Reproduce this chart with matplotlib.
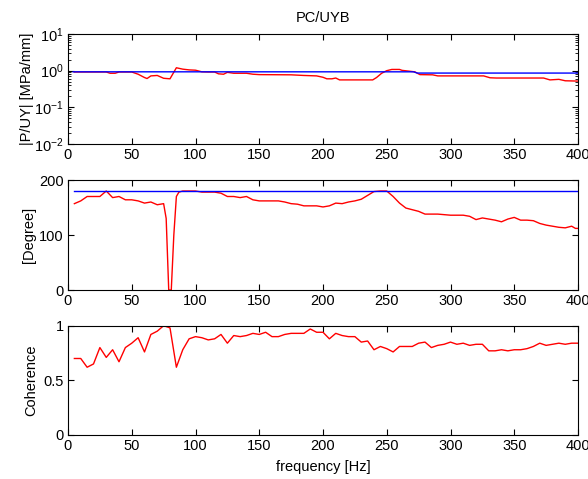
import matplotlib
matplotlib.use("Agg")
import matplotlib.pyplot as plt
import numpy as np

plt.rcParams['font.family'] = ['Liberation Sans', 'DejaVu Sans']
plt.rcParams['font.size'] = 10.5

# ---- data ----
mag_freq = [5, 10, 15, 20, 25, 30, 33, 37, 40, 45, 50, 55, 60, 62, 65, 70, 75, 80, 85, 90,
            95, 100, 105, 110, 115, 118, 122, 125, 130, 140, 145, 150, 175, 185, 195, 200, 203,
            207, 210, 213, 225, 239, 242, 246, 250, 254, 260, 262, 272, 276, 286, 290, 326,
            331, 336, 373, 378, 385, 390, 400]
mag_red = [0.92, 0.92, 0.92, 0.92, 0.92, 0.92, 0.85, 0.85, 0.92, 0.92, 0.92, 0.8, 0.65, 0.61,
           0.72, 0.74, 0.62, 0.6, 1.2, 1.1, 1.05, 1.03, 0.93, 0.92, 0.92, 0.82, 0.8, 0.9, 0.85,
           0.85, 0.8, 0.78, 0.77, 0.74, 0.72, 0.66, 0.6, 0.6, 0.63, 0.56, 0.56, 0.56, 0.65, 0.85,
           1.0, 1.08, 1.08, 1.02, 0.93, 0.78, 0.77, 0.72, 0.72, 0.64, 0.63, 0.63, 0.56, 0.58,
           0.53, 0.52]
mag_blue_freq = [4, 271, 274, 400]
mag_blue = [0.93, 0.93, 0.86, 0.86]

ph_freq = [5, 10, 15, 20, 25, 30, 35, 40, 45, 50, 55, 60, 65, 70, 75, 77, 79, 81, 83, 85, 87,
           90, 95, 100, 105, 110, 115, 120, 125, 130, 135, 140, 145, 150, 155, 160, 165, 170,
           175, 180, 185, 190, 195, 200, 205, 210, 215, 220, 225, 230, 235, 240, 245, 250, 255,
           260, 265, 270, 275, 280, 285, 290, 295, 300, 305, 310, 315, 320, 325, 330, 335, 340,
           345, 350, 355, 360, 365, 370, 375, 380, 385, 390, 395, 398, 400]
ph_red = [157, 162, 170, 170, 170, 180, 168, 170, 164, 164, 162, 158, 160, 155, 157, 130, 0, 0,
          100, 170, 178, 180, 180, 180, 178, 178, 178, 176, 170, 170, 168, 170, 164, 162, 162,
          162, 162, 160, 157, 156, 153, 153, 153, 151, 153, 158, 157, 160, 162, 165, 172, 179,
          180, 180, 170, 158, 149, 146, 143, 138, 138, 138, 137, 136, 136, 136, 134, 128, 131,
          129, 127, 124, 129, 132, 127, 127, 126, 121, 118, 116, 114, 113, 116, 112, 112]
ph_blue_freq = [5, 400]
ph_blue = [180, 180]

coh_freq = [5, 10, 15, 20, 25, 30, 35, 40, 45, 50, 55, 60, 65, 70, 75, 80, 85, 90, 95, 100,
            105, 110, 115, 120, 125, 130, 135, 140, 145, 150, 155, 160, 165, 170, 175, 180,
            185, 190, 195, 200, 205, 210, 215, 220, 225, 230, 235, 240, 245, 250, 255, 260,
            265, 270, 275, 280, 285, 290, 295, 300, 305, 310, 315, 320, 325, 330, 335, 340,
            345, 350, 355, 360, 365, 370, 375, 380, 385, 390, 395, 400]
coh = [0.70, 0.70, 0.62, 0.65, 0.80, 0.71, 0.78, 0.67, 0.80, 0.84, 0.89, 0.76, 0.92, 0.95,
       1.00, 0.98, 0.62, 0.78, 0.88, 0.90, 0.89, 0.87, 0.88, 0.92, 0.84, 0.91, 0.90, 0.91,
       0.93, 0.92, 0.94, 0.90, 0.90, 0.92, 0.93, 0.93, 0.93, 0.97, 0.94, 0.94, 0.88, 0.93,
       0.91, 0.90, 0.90, 0.85, 0.86, 0.78, 0.81, 0.79, 0.76, 0.81, 0.81, 0.81, 0.84, 0.85,
       0.80, 0.82, 0.83, 0.85, 0.83, 0.84, 0.82, 0.83, 0.83, 0.77, 0.77, 0.78, 0.77, 0.78,
       0.78, 0.79, 0.81, 0.84, 0.82, 0.83, 0.84, 0.83, 0.84, 0.84]

xticks = [0, 50, 100, 150, 200, 250, 300, 350, 400]

W, H = 588, 479
fig = plt.figure(figsize=(W / 100, H / 100), dpi=100)

def ax_at(top, bottom):
    return fig.add_axes([68 / W, 1 - bottom / H, (578 - 68) / W, (bottom - top) / H])

def style(ax):
    ax.tick_params(direction='in', top=True, right=True, length=4, width=0.8,
                   colors='black', labelsize=10.5, pad=3)
    ax.tick_params(which='minor', direction='in', top=False, right=True, length=2.5, width=0.6)
    for s in ax.spines.values():
        s.set_linewidth(0.8)
        s.set_color('black')
    ax.set_xlim(0, 400)
    ax.set_xticks(xticks)

ax1 = ax_at(34, 144)
ax1.plot(mag_freq, mag_red, color='#ff0000', lw=1.0)
ax1.plot(mag_blue_freq, mag_blue, color='#0000ff', lw=1.0)
ax1.set_yscale('log')
ax1.set_ylim(1e-2, 1e1)
ax1.set_yticks([1e-2, 1e-1, 1e0, 1e1])
style(ax1)
ax1.set_ylabel('|P/UY| [MPa/mm]', labelpad=0)
ax1.set_title('PC/UYB', fontsize=10.5, pad=9)

ax2 = ax_at(180, 290)
ax2.plot(ph_freq, ph_red, color='#ff0000', lw=1.0)
ax2.plot(ph_blue_freq, ph_blue, color='#0000ff', lw=1.0)
ax2.set_ylim(0, 200)
ax2.set_yticks([0, 100, 200])
style(ax2)
ax2.set_ylabel('[Degree]', labelpad=2)

ax3 = ax_at(325.7, 435)
ax3.plot(coh_freq, coh, color='#ff0000', lw=1.0)
ax3.set_ylim(0, 1)
ax3.set_yticks([0, 0.5, 1])
ax3.set_yticklabels(['0', '0.5', '1'])
style(ax3)
ax3.set_ylabel('Coherence', labelpad=4)
ax3.set_xlabel('frequency [Hz]', labelpad=5)

fig.savefig('out.png', dpi=100, facecolor='white')
